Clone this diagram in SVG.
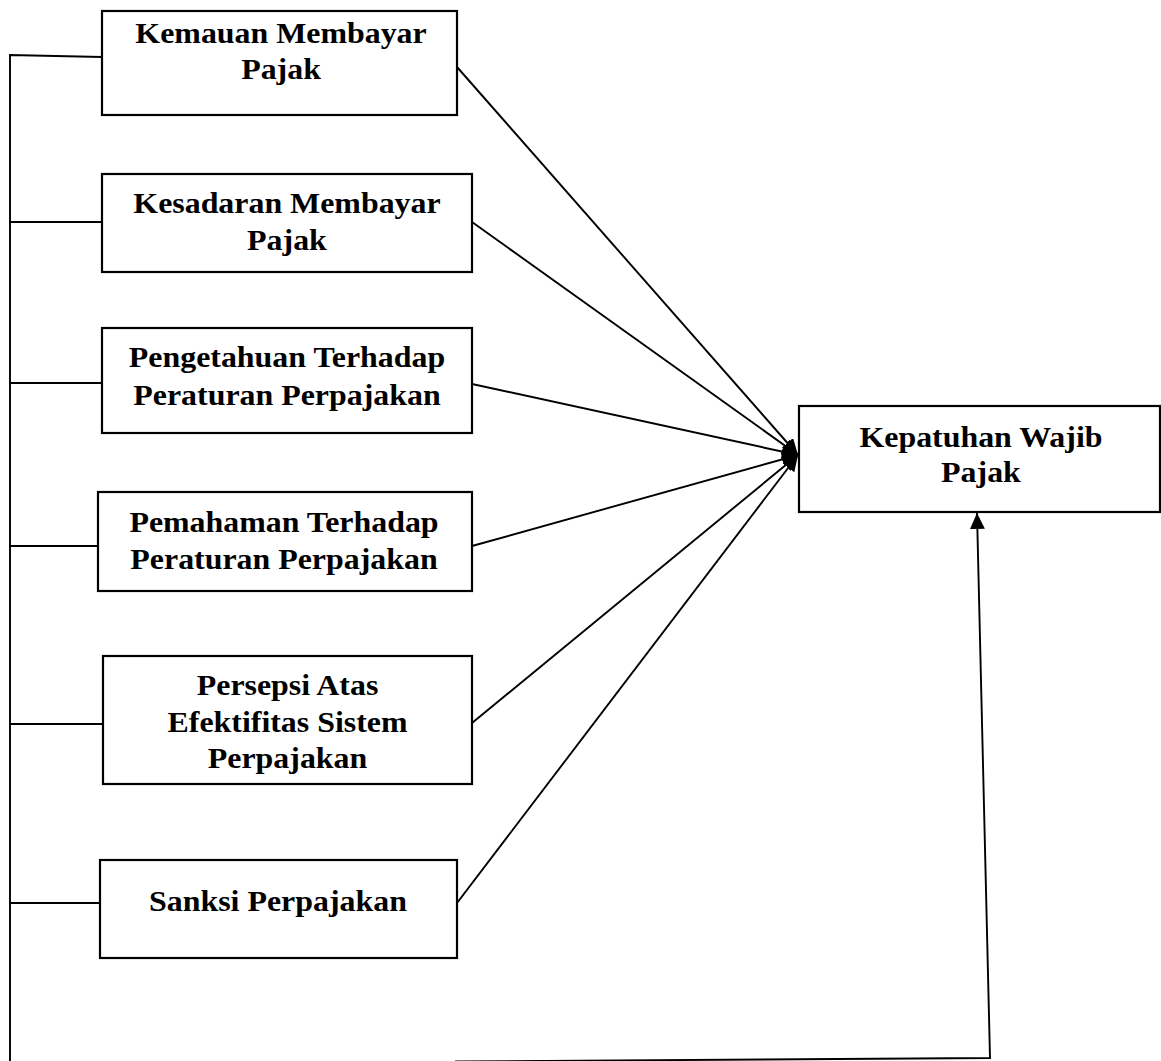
<svg xmlns="http://www.w3.org/2000/svg" width="1161" height="1061" viewBox="0 0 1161 1061">
  <style>
    .box { fill: #ffffff; stroke: #000000; stroke-width: 2.2; }
    .lbl { font-family: "Liberation Serif", "Times New Roman", serif; font-weight: bold; font-size: 29px; fill: #000000; text-anchor: middle; }
    .ln { fill: none; stroke: #000000; stroke-width: 1.9; }
  </style>
  <defs>
    <marker id="arr" markerUnits="userSpaceOnUse" markerWidth="16" markerHeight="15" refX="16" refY="7.5" orient="auto">
      <path d="M0,0 L16,7.5 L0,15 Z" fill="#000000"/>
    </marker>
  </defs>
  <rect width="1161" height="1061" fill="#ffffff"/>

  <g id="connectors">
    <polyline class="ln" points="102,57 10,55 10,1064"/>
    <line class="ln" x1="10" y1="222" x2="102" y2="222"/>
    <line class="ln" x1="10" y1="383" x2="102" y2="383"/>
    <line class="ln" x1="10" y1="546" x2="102" y2="546"/>
    <line class="ln" x1="10" y1="724" x2="103" y2="724"/>
    <line class="ln" x1="10" y1="903" x2="100" y2="903"/>
    <line class="ln" x1="457" y1="67" x2="798" y2="455" stroke-width="2.5" marker-end="url(#arr)"/>
    <line class="ln" x1="472" y1="222" x2="798" y2="455" marker-end="url(#arr)"/>
    <line class="ln" x1="472" y1="384" x2="798" y2="455" marker-end="url(#arr)"/>
    <line class="ln" x1="472" y1="546" x2="798" y2="455" marker-end="url(#arr)"/>
    <line class="ln" x1="472" y1="723" x2="798" y2="455" marker-end="url(#arr)"/>
    <line class="ln" x1="457" y1="903" x2="798" y2="455" marker-end="url(#arr)"/>
    <polyline class="ln" points="455,1061.5 990,1058 977,513" marker-end="url(#arr)"/>
  </g>

  <g id="n1">
    <rect class="box" x="102" y="11" width="355" height="104"/>
    <text class="lbl" transform="scale(1.1 1)"><tspan x="255.5" y="43">Kemauan Membayar</tspan><tspan x="255.5" y="79">Pajak</tspan></text>
  </g>
  <g id="n2">
    <rect class="box" x="102" y="174" width="370" height="98"/>
    <text class="lbl" transform="scale(1.1 1)"><tspan x="260.9" y="213">Kesadaran Membayar</tspan><tspan x="260.9" y="250">Pajak</tspan></text>
  </g>
  <g id="n3">
    <rect class="box" x="102" y="328" width="370" height="105"/>
    <text class="lbl" transform="scale(1.1 1)"><tspan x="260.9" y="367">Pengetahuan Terhadap</tspan><tspan x="260.9" y="405">Peraturan Perpajakan</tspan></text>
  </g>
  <g id="n4">
    <rect class="box" x="98" y="492" width="374" height="99"/>
    <text class="lbl" transform="scale(1.1 1)"><tspan x="258.2" y="532">Pemahaman Terhadap</tspan><tspan x="258.2" y="569">Peraturan Perpajakan</tspan></text>
  </g>
  <g id="n5">
    <rect class="box" x="103" y="656" width="369" height="128"/>
    <text class="lbl" transform="scale(1.1 1)"><tspan x="261.4" y="695">Persepsi Atas</tspan><tspan x="261.4" y="732">Efektifitas Sistem</tspan><tspan x="261.4" y="768">Perpajakan</tspan></text>
  </g>
  <g id="n6">
    <rect class="box" x="100" y="860" width="357" height="98"/>
    <text class="lbl" transform="scale(1.1 1)"><tspan x="252.7" y="911">Sanksi Perpajakan</tspan></text>
  </g>
  <g id="n7">
    <rect class="box" x="799" y="406" width="361" height="106"/>
    <text class="lbl" transform="scale(1.1 1)"><tspan x="891.8" y="447">Kepatuhan Wajib</tspan><tspan x="891.8" y="482">Pajak</tspan></text>
  </g>
</svg>
